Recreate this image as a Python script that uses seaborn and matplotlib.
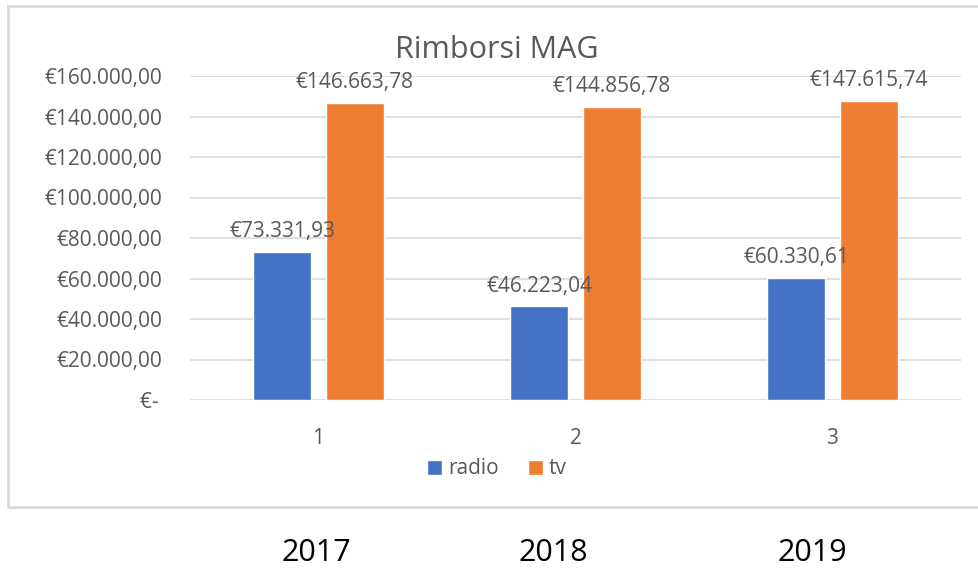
import matplotlib
matplotlib.use("Agg")
import matplotlib.pyplot as plt
import seaborn as sns
import pandas as pd
from matplotlib.patches import Rectangle, Patch
from matplotlib.ticker import FuncFormatter

categories = ["1", "2", "3"]
years = ["2017", "2018", "2019"]
series_names = ["radio", "tv"]
radio = [73331.93, 46223.04, 60330.61]
tv = [146663.78, 144856.78, 147615.74]
colors = ["#4472C4", "#ED7D31"]

def eur(v):
    if v == 0:
        return "€-\u2009"
    s = f"{v:,.2f}"
    s = s.replace(",", "X").replace(".", ",").replace("X", ".")
    return "€" + s

df = pd.DataFrame({
    "cat": categories * 2,
    "serie": ["radio"] * 3 + ["tv"] * 3,
    "val": radio + tv,
})

sns.set_theme(style="white")
plt.rcParams['font.family'] = ['Open Sans', 'DejaVu Sans']
txt = "#595959"

fig = plt.figure(figsize=(9.79, 5.73), dpi=100)
ax = fig.add_axes([190/979, 1-400/573, (961-190)/979, (400-76)/573])

sns.barplot(data=df, x="cat", y="val", hue="serie", palette=colors,
            width=0.568, gap=0.21, ax=ax, legend=False, saturation=1)

ax.set_ylim(0, 160000)
ax.set_yticks(range(0, 160001, 20000))
ax.yaxis.set_major_formatter(FuncFormatter(lambda v, p: eur(v)))
ax.grid(axis="y", color="#d9d9d9", linewidth=1.2)
ax.set_axisbelow(True)
for s in ax.spines.values():
    s.set_visible(False)
ax.tick_params(axis="y", colors=txt, labelsize=15, length=0, pad=20)
ax.tick_params(axis="x", colors=txt, labelsize=15, length=0, pad=20)
ax.set_xlabel("")
ax.set_ylabel("")

for cont in ax.containers:
    ax.bar_label(cont, labels=[eur(b.get_height()) for b in cont],
                 padding=7, fontsize=15, color=txt)

fig.text(497/979, 1-50/573, "Rimborsi MAG", ha="center", va="center",
         fontsize=22, color=txt)

handles = [Patch(facecolor=c, label=n) for c, n in zip(colors, series_names)]
fig.legend(handles=handles, loc="center", bbox_to_anchor=(497/979, 1-469/573),
           ncol=2, frameon=False, fontsize=15, labelcolor=txt,
           handlelength=0.7, handleheight=0.7, handletextpad=0.3,
           columnspacing=1.4)

fig.patches.append(Rectangle((8/979, 1-507/573), 1.2, (507-6)/573,
                             transform=fig.transFigure, fill=False,
                             edgecolor="#d9d9d9", linewidth=2))

for x, y in zip([316, 553, 812], years):
    fig.text(x/979, 1-553/573, y, ha="center", va="center",
             fontsize=22, color="black")

fig.savefig("out.png", dpi=100)
